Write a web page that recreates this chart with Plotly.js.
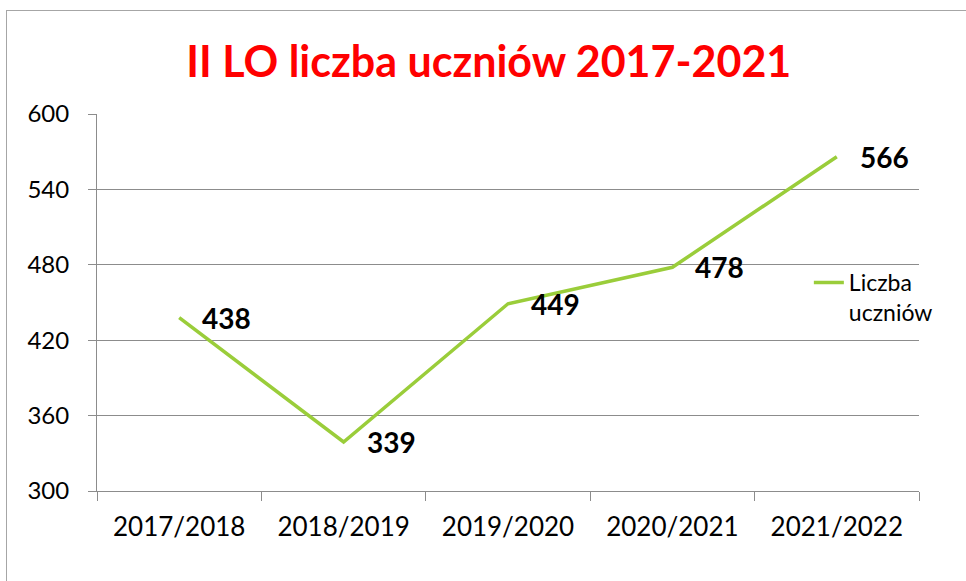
<!DOCTYPE html>
<html>
<head>
<meta charset="utf-8">
<script src="https://cdn.plot.ly/plotly-3.0.1.min.js"></script>
<style>
  html, body { margin: 0; padding: 0; background: #ffffff; }
  #wrap { position: relative; width: 966px; height: 581px; overflow: hidden; }
  #chart { width: 966px; height: 581px; }
  #frame { position: absolute; left: 6px; top: 10px; width: 980px; height: 600px;
           border-left: 1.5px solid #a6a6a6; border-top: 1.5px solid #a6a6a6; pointer-events: none; }
</style>
</head>
<body>
<div id="wrap">
  <div id="chart"></div>
  <div id="frame"></div>
</div>
<script>
const categories = ["2017/2018", "2018/2019", "2019/2020", "2020/2021", "2021/2022"];
const values = [438, 339, 449, 478, 566];
const seriesName = "Liczba<br>uczniów";
const chartTitle = "II LO liczba uczniów 2017-2021";
const yTicks = [300, 360, 420, 480, 540, 600];

const lineColor = "#9acd3a";
const gridColor = "#8c8c8c";
const fontFam = "Lato, 'Open Sans', sans-serif";

const trace = {
  x: categories,
  y: values,
  type: "scatter",
  mode: "lines",
  name: seriesName,
  line: { color: lineColor, width: 3.5 },
  hoverinfo: "x+y"
};

const labelAnnotations = categories.map((c, i) => ({
  x: c, y: values[i], xref: "x", yref: "y",
  text: "<b>" + values[i] + "</b>",
  showarrow: false, xanchor: "left", yanchor: "middle",
  xshift: 21, yshift: 0,
  font: { family: fontFam, size: 28, color: "#000000" }
}));

const layout = {
  width: 966, height: 581,
  paper_bgcolor: "#ffffff", plot_bgcolor: "#ffffff",
  margin: { l: 97, r: 47, t: 114, b: 90 },
  font: { family: fontFam, color: "#000000" },
  title: {
    text: "<b>" + chartTitle + "</b>",
    x: 0.506, xref: "container", xanchor: "center",
    y: 0.893, yref: "container", yanchor: "middle",
    font: { family: fontFam, size: 43, color: "#ff0000" }
  },
  xaxis: {
    type: "category",
    range: [-0.5, 4.5],
    showgrid: false,
    showline: true, linecolor: gridColor, linewidth: 1,
    ticks: "outside", tickson: "boundaries", ticklen: 9, tickcolor: gridColor,
    tickfont: { family: fontFam, size: 26, color: "#000000" },
    ticklabelstandoff: 13,
    zeroline: false, fixedrange: true
  },
  yaxis: {
    range: [300, 600],
    tickvals: yTicks,
    showgrid: true, gridcolor: gridColor, gridwidth: 1,
    showline: true, linecolor: gridColor, linewidth: 1,
    ticks: "outside", ticklen: 8, tickcolor: gridColor,
    tickfont: { family: fontFam, size: 24, color: "#000000" },
    ticklabelstandoff: 14,
    zeroline: false, fixedrange: true
  },
  showlegend: true,
  legend: {
    x: 0.866, xref: "paper", xanchor: "left",
    y: 0.61, yref: "paper", yanchor: "top",
    valign: "top",
    bgcolor: "rgba(255,255,255,0)",
    font: { family: fontFam, size: 23, color: "#000000" }
  },
  annotations: labelAnnotations
};

Plotly.newPlot("chart", [trace], layout, { displayModeBar: false, staticPlot: true });
</script>
</body>
</html>
